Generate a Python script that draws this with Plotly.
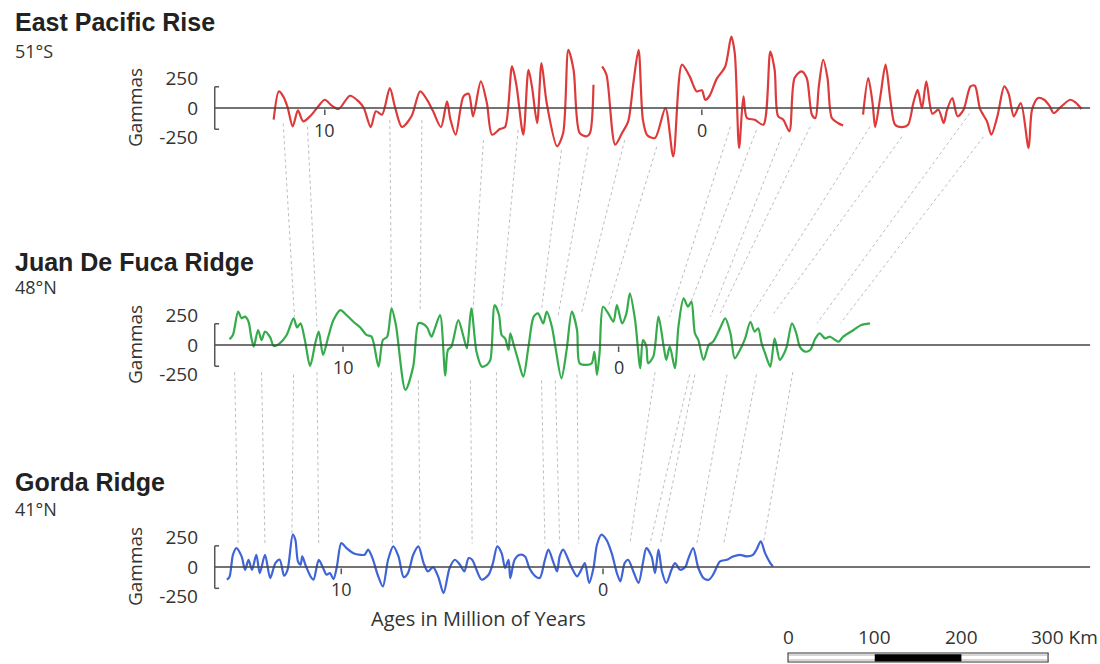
import plotly.graph_objects as go

# ---------------- data ----------------
# Distance along profile (km) and magnetic anomaly (gammas); None = gap in the record
epr_km = [70,76,81,86,92,98,104,112,120,129,137,145,158,168,174,182,188,195,204,210,
          218,229,239,247,254,263,270,274,280,289,295,300,309,316,322,331,337,345,350,358,
          364,368,374,379,385,397,404,410,416,423,431,435,439,None,
          449,454,464,472,479,485,491,496,501,510,522,531,541,550,558,564,568,573,581,591,
          598,602,607,612,616,625,635,643,648,652,658,665,671,679,685,691,695,699,704,709,
          714,721,727,None,
          750,756,761,764,770,776,782,787,795,802,808,813,818,823,830,837,843,847,853,859,
          866,874,879,885,893,898,905,913,918,924,932,941,945,952,959,965,970,978,989,995,1002]
epr_g = [-99,141,99,8,-155,-20,-113,-70,0,70,20,-8,104,56,0,-161,-28,-56,169,8,
         -161,-70,141,70,-28,-161,56,-99,-226,99,121,-70,226,42,-226,-178,-161,352,197,-226,
         324,183,-127,381,42,-324,-211,493,324,-211,-240,-211,197,None,
         352,282,-310,-211,-113,211,493,-99,-230,-254,0,-409,367,268,141,150,70,104,245,352,
         606,465,-338,99,-85,-99,-141,479,324,-70,-99,-197,254,310,254,-56,-85,183,409,254,
         -85,-127,-149,None,
         -56,254,42,-161,99,367,42,-141,-161,-141,42,155,0,226,-48,-14,-127,-14,85,-70,
         -14,183,189,-8,-113,-226,-70,183,121,-70,42,-338,-14,85,70,20,-42,8,70,48,-8]

jdf_km = [19,23,29,33,37,41,44,47,52,56,60,66,70,77,85,93,97,101,106,112,
          118,122,127,133,139,147,154,162,170,177,183,191,196,201,206,211,222,231,237,241,
          247,252,256,262,268,271,275,283,289,293,298,304,310,316,320,325,330,333,337,341,
          343,347,352,358,364,370,375,381,385,391,395,402,408,414,420,423,431,437,440,443,
          446,450,456,462,466,472,477,481,487,493,496,500,502,508,514,520,523,527,533,537,
          543,548,552,556,560,566,572,577,585,591,597,602,608,614,620,625,629,633,637,643,
          648,654,658,662,668,673,677,683,689,695,700,706,712,718,722,727,739,748,758]
jdf_g = [48,85,282,226,240,197,70,-14,127,42,113,65,-8,14,85,226,149,183,42,-178,
         14,113,-85,70,211,296,254,197,149,85,70,-183,42,70,310,169,-381,-183,183,183,
         149,70,141,254,-260,-42,-14,211,70,-28,310,-56,-183,-169,-127,338,254,85,56,-42,
         99,0,-127,-268,-14,240,268,183,282,155,-14,-282,-42,282,127,-155,-169,-155,-56,-254,
         -70,324,268,197,338,183,268,437,211,-197,42,-14,-155,-99,240,-14,-127,-14,-197,155,
         395,324,367,99,42,-127,0,28,141,226,99,-113,-42,56,197,113,141,14,-70,-183,
         56,-127,-85,-14,183,99,-14,-56,-42,56,99,56,70,42,28,70,127,169,183]

gorda_km = [16,19,23,27,33,37,41,45,50,54,60,66,72,77,82,86,92,95,98,101,
            103,107,113,116,122,127,131,135,139,143,148,154,162,170,175,179,184,190,196,202,
            208,214,220,225,231,237,243,248,254,260,266,273,279,285,290,295,299,304,310,
            318,323,328,333,337,341,343,348,354,360,365,372,377,383,387,393,397,400,404,410,
            414,420,424,429,434,439,443,448,454,460,466,470,475,479,485,491,496,500,506,510,
            514,518,523,529,533,539,545,548,554,560,566,572,577,585,593,600,608,616,623,627,
            632,637,643,646]
gorda_g = [-107,-85,104,161,90,-23,62,-23,104,-51,104,-93,34,62,-73,-23,274,231,48,20,
           90,11,-85,-107,62,-8,-65,-51,-102,6,203,161,118,104,104,147,76,-65,-164,62,
           175,90,-85,-51,104,175,34,-37,0,-85,-220,-8,62,20,-37,76,62,-23,-107,
           -65,34,175,118,-8,62,-93,62,104,90,-8,-79,-93,62,147,34,-37,90,147,62,
           -8,-79,-37,34,-135,-8,189,274,231,118,-51,-121,34,62,-37,-135,34,161,90,-51,
           147,-37,-135,-23,34,-23,0,62,161,-8,-93,-107,-65,48,62,90,104,90,104,147,
           217,118,34,6]

# age tick positions (km) for each profile
age_labels = ["10", "0"]
epr_age_km = [129, 564]
jdf_age_km = [150, 468]
gorda_age_km = [148, 450]

# correlation lines: East Pacific Rise -> Juan De Fuca
c1_top_km = [81,109,204,241,312,352,402,433,475,512,597,627,656,689,758,795,873,889]
c1_top_g = [-130,-158,-102,-102,-271,-186,-356,-328,-271,-328,-158,-186,-243,-158,-158,-243,-45,-243]
c1_mid_km = [94,120,206,239,300,333,379,398,425,456,527,548,574,585,620,647,697,724]
c1_mid_g = [240,155,324,296,296,324,296,240,268,324,240,296,240,268,240,268,184,184]
# correlation lines: Juan De Fuca -> Gorda
c2_mid_km = [25,56,93,120,206,237,297,327,379,395,420,510,550,556,593,627,669]
c2_mid_g = [-230,-230,-250,-230,-230,-300,-300,-230,-300,-300,-250,-230,-250,-250,-250,-250,-230]
c2_bot_km = [29,60,91,122,207,239,299,327,383,400,422,481,504,516,558,589,635]
c2_bot_g = [200,200,210,200,200,200,200,200,200,200,200,200,190,190,190,190,200]

gamma_ticks = [250, 0, -250]
scale_km = [0, 100, 200, 300]

# ---------------- layout constants ----------------
OFF = [0, -2007, -3888]          # vertical offset of each profile (gammas)
XR = [0, 1023.4]
YR = [-4709, 915]
W, H, L = 1100, 664, 213
PW = W - L
def px_x(px):  # paper x from pixel
    return (px - L) / PW
def px_y(py):
    return 1 - py / H

RED, GREEN, BLUE = '#dd3b3b', '#35ab4c', '#3e64d6'
TXT = '#333333'
FONT = 'Open Sans'

fig = go.Figure()

# correlation dashed lines
cx, cy = [], []
for a, b, c, d in zip(c1_top_km, c1_top_g, c1_mid_km, c1_mid_g):
    cx += [a, c, None]; cy += [OFF[0] + b, OFF[1] + d, None]
for a, b, c, d in zip(c2_mid_km, c2_mid_g, c2_bot_km, c2_bot_g):
    cx += [a, c, None]; cy += [OFF[1] + b, OFF[2] + d, None]
fig.add_trace(go.Scatter(x=cx, y=cy, mode='lines', hoverinfo='skip',
                         line=dict(color='#bdbdbd', width=1, dash='3px,3px')))

# profiles
for km, g, off, col in [(epr_km, epr_g, OFF[0], RED), (jdf_km, jdf_g, OFF[1], GREEN),
                        (gorda_km, gorda_g, OFF[2], BLUE)]:
    fig.add_trace(go.Scatter(x=km, y=[None if v is None else v + off for v in g],
                             mode='lines', connectgaps=False,
                             line=dict(color=col, width=2.2, shape='spline', smoothing=0.8)))

shapes = []
annotations = []
for off in OFF:
    # zero line
    shapes.append(dict(type='line', xref='x', yref='y', x0=2, x1=1012, y0=off, y1=off,
                       line=dict(color='#444444', width=1.5)))
    # bracket
    shapes.append(dict(type='line', xref='x', yref='y', x0=2, x1=2, y0=off - 180, y1=off + 180,
                       line=dict(color='#555555', width=1.5)))
    for s in (-180, 180):
        shapes.append(dict(type='line', xref='x', yref='y', x0=2, x1=7, y0=off + s, y1=off + s,
                           line=dict(color='#555555', width=1.5)))
    annotations.append(dict(text='Gammas', xref='paper', yref='y', x=px_x(135), y=off,
                            xanchor='center', yanchor='middle',
                            textangle=-90, showarrow=False,
                            font=dict(family=FONT, size=19, color=TXT)))

for ages, off in [(epr_age_km, OFF[0]), (jdf_age_km, OFF[1]), (gorda_age_km, OFF[2])]:
    for km, lab in zip(ages, age_labels):
        shapes.append(dict(type='line', xref='x', yref='y', x0=km, x1=km, y0=off - 12, y1=off - 60,
                           line=dict(color='#555555', width=1.5)))
        annotations.append(dict(text=lab, xref='x', yref='y', x=km, y=off - 185, showarrow=False,
                                xanchor='center', yanchor='middle',
                                font=dict(family=FONT, size=18, color=TXT)))

# titles
for txt, py, bold in [('East Pacific Rise', 22.5, True), ('51°S', 51, False),
                      ('Juan De Fuca Ridge', 262.5, True), ('48°N', 287.5, False),
                      ('Gorda Ridge', 482, True), ('41°N', 509, False)]:
    if bold:
        f = dict(family='Liberation Sans, Arial', size=25, color='#222222')
        t = '<b>' + txt + '</b>'
    else:
        f = dict(family=FONT, size=18, color=TXT)
        t = txt
    annotations.append(dict(text=t, xref='paper', yref='paper', x=px_x(13), y=px_y(py),
                            xanchor='left', yanchor='middle', showarrow=False, font=f))

annotations.append(dict(text='Ages in Million of Years', xref='paper', yref='paper',
                        x=px_x(478), y=px_y(618), xanchor='center', yanchor='middle',
                        showarrow=False, font=dict(family=FONT, size=20, color=TXT)))

# scale bar
SB0 = 663.5
SBY0, SBY1 = -4616, -4692
shapes.append(dict(type='rect', xref='x', yref='y', x0=SB0, x1=SB0 + scale_km[-1], y0=SBY0, y1=SBY1,
                   fillcolor='white', line=dict(color='#333333', width=1.2)))
shapes.append(dict(type='rect', xref='x', yref='y', x0=SB0, x1=SB0 + scale_km[-1], y0=SBY0 - 17, y1=SBY1 + 17,
                   fillcolor='rgba(0,0,0,0)', line=dict(color='#999999', width=0.8)))
shapes.append(dict(type='rect', xref='x', yref='y', x0=SB0 + scale_km[1], x1=SB0 + scale_km[2],
                   y0=SBY0 - 10, y1=SBY1 + 5, fillcolor='black', line=dict(width=0)))
for v in scale_km:
    lab = str(v) if v < scale_km[-1] else str(v) + ' Km'
    a = dict(text=lab, xref='x', yref='y', x=SB0 + v, y=-4481, showarrow=False,
             xanchor='center', yanchor='middle',
             font=dict(family=FONT, size=19, color=TXT))
    if v == scale_km[-1]:
        a.update(xanchor='left', xshift=-19)
    annotations.append(a)

tickvals, ticktext = [], []
for off in OFF:
    for t in gamma_ticks:
        tickvals.append(off + t); ticktext.append(str(t))

fig.update_layout(
    width=W, height=H, margin=dict(l=L, r=0, t=0, b=0, pad=0),
    paper_bgcolor='white', plot_bgcolor='white', showlegend=False,
    xaxis=dict(range=XR, visible=False, fixedrange=True),
    yaxis=dict(range=YR, tickvals=tickvals, ticktext=ticktext, showgrid=False, zeroline=False,
               showline=False, ticks='', ticklabelstandoff=14,
               tickfont=dict(family=FONT, size=19, color=TXT), fixedrange=True),
    shapes=shapes, annotations=annotations,
)

fig.write_html('out.html', config={'displayModeBar': False},
               post_script="document.body.style.margin='0px';document.body.style.overflow='hidden';")
